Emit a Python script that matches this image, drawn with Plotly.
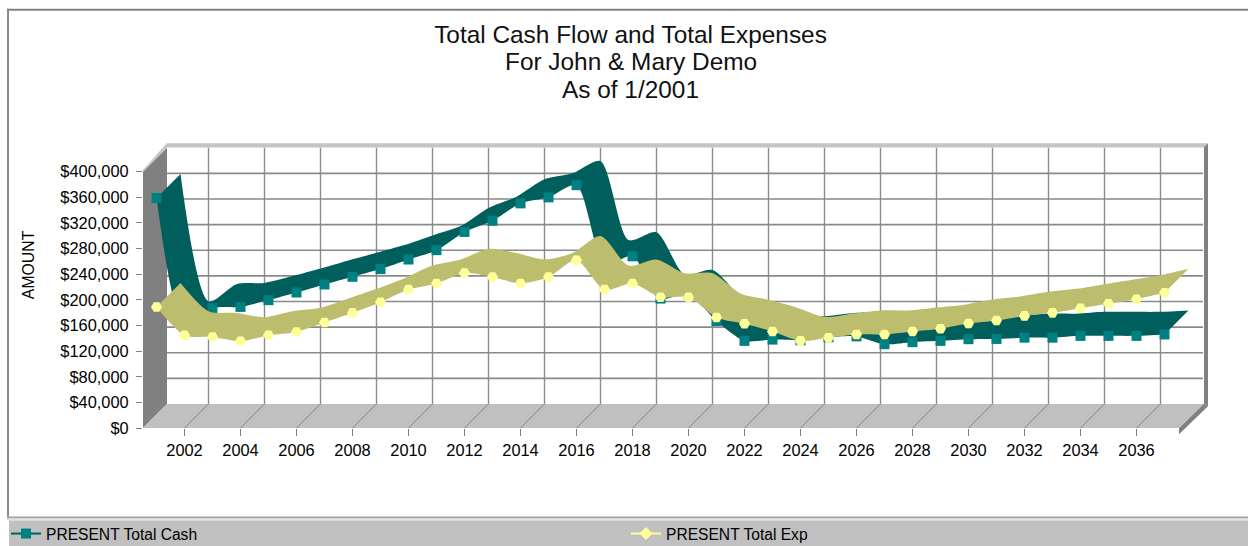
import plotly.graph_objects as go

# ---------- data ----------
years = list(range(2001, 2038))
total_cash = [359000, 160000, 187000, 189000, 199600, 211500, 224000, 236000, 248000, 263000,
              277600, 306000, 323500, 350600, 360000, 379000, 256000, 268000, 202000, 209000,
              167000, 136000, 138000, 137000, 141600, 143000, 130800, 134000, 136000, 138600,
              139000, 141000, 141000, 143800, 143800, 143800, 146000]
total_exp = [189000, 144800, 142000, 135500, 144800, 150000, 164600, 179700, 196400, 216000,
             225600, 242000, 235500, 225600, 235500, 262000, 216000, 225600, 204000, 204000,
             172500, 162600, 150600, 136000, 141000, 146000, 146000, 150600, 155000, 163000,
             167800, 175000, 179700, 187000, 194000, 201000, 211000]
x_ticks = list(range(2002, 2037, 2))
y_ticks = list(range(0, 400001, 40000))
y_tick_labels = [f"${v:,}" for v in y_ticks]
title_lines = ["Total Cash Flow and Total Expenses", "For John &amp; Mary Demo", "As of 1/2001"]
y_axis_label = "AMOUNT"
cash_name = "PRESENT Total Cash"
exp_name = "PRESENT Total Exp"

# ---------- geometry ----------
W, H = 1248, 546
L, R, T, B = 143, 1208, 143, 427.7     # plot area in pixels
PX_PER_YEAR = 28.0
VALUE_PER_PX = 1562.5
DEPTH_PX = 24
DX = DEPTH_PX / PX_PER_YEAR
DY = DEPTH_PX * VALUE_PER_PX
X0 = 2001 - (156.5 - L) / PX_PER_YEAR
X1 = 2001 + (R - 156.5) / PX_PER_YEAR
Y1 = (B - T) * VALUE_PER_PX
XF = 2001 + (1179 - 156.5) / PX_PER_YEAR   # right end of the front edge

def px(x): return (x - L) / (R - L)
def py(y): return (B - y) / (B - T)
def poly(points, fill):
    path = "M " + " L ".join(f"{px(a):.5f},{py(b):.5f}" for a, b in points) + " Z"
    return dict(type="path", path=path, xref="paper", yref="paper", fillcolor=fill,
                line=dict(width=0), layer="below")
def rect(x0, y0, x1, y1, fill):
    return poly([(x0, y0), (x1, y0), (x1, y1), (x0, y1)], fill)

GRID = "#8a8a8a"
shapes = [
    # outer frame and legend band
    rect(7, 9, W, 11, "#808080"),
    rect(7, 9, 9, 518, "#8c8c8c"),
    rect(7, 516, W, 518, "#a0a0a0"),
    rect(7, 518, W, 520, "#e2e2e2"),
    rect(9, 520, W, H, "#c0c0c0"),
    # chart box
    poly([(143, B), (167, B - 24), (167, 147.7), (143, 171.7)], "#808080"),
    poly([(143, B), (167, B - 24), (1204, B - 24), (1179, B)], "#c0c0c0"),
    poly([(141.5, 171.7), (166.7, 143.3), (1208, 143.3), (1204, 147.5), (166.7, 147.5), (143, 171.7)], "#c4c4c4"),
    poly([(1204, 147.5), (1208, 143.3), (1208, 406), (1204, 403.5)], "#808080"),
    poly([(1179, 428), (1204, 403.5), (1208, 406), (1179, 434)], "#808080"),
]
for v in y_ticks[1:-1]:
    shapes.append(dict(type="line", xref="x", yref="y", x0=X0 + DX, x1=XF + DX, y0=v + DY, y1=v + DY,
                       line=dict(color=GRID, width=1.6), layer="below"))
for t in x_ticks:
    shapes.append(dict(type="line", xref="x", yref="y", x0=t + DX, x1=t + DX, y0=DY, y1=400000 + DY,
                       line=dict(color=GRID, width=1.4), layer="below"))
    shapes.append(dict(type="line", xref="x", yref="y", x0=t, x1=t + DX, y0=0, y1=DY,
                       line=dict(color="#808080", width=1), layer="below"))

CASH_RIB, CASH_MK = "#005f5c", "#008080"
EXP_RIB, EXP_MK = "#bdbd6e", "#ffff99"
SMOOTH = 0.75

def ribbon(values, color):
    front = go.Scatter(x=years, y=values, mode="lines", showlegend=False, hoverinfo="skip",
                       line=dict(width=0, shape="spline", smoothing=SMOOTH, color=color))
    back = go.Scatter(x=[y + DX for y in years], y=[v + DY for v in values], mode="lines",
                      showlegend=False, hoverinfo="skip", fill="tonexty", fillcolor=color,
                      line=dict(width=0, shape="spline", smoothing=SMOOTH, color=color))
    return [front, back]

def marks(values, color, symbol, size):
    return go.Scatter(x=years, y=values, mode="markers", showlegend=False,
                      marker=dict(color=color, symbol=symbol, size=size, line=dict(width=0)))

def key(name, line_color, color, symbol, legend):
    return go.Scatter(x=[None], y=[None], mode="lines+markers", name=name, legend=legend,
                      line=dict(color=line_color, width=2),
                      marker=dict(color=color, symbol=symbol, size=10, line=dict(width=0)))

traces = ribbon(total_cash, CASH_RIB) + [marks(total_cash, CASH_MK, "square", 10)]
traces += ribbon(total_exp, EXP_RIB) + [marks(total_exp, EXP_MK, "hexagon2", 11)]
traces += [key(cash_name, CASH_RIB, CASH_MK, "square", "legend"),
           key(exp_name, EXP_MK, EXP_MK, "diamond", "legend2")]

FONT = "Liberation Sans, Arial, sans-serif"
TITLE_SIZE = 24.4
legend_style = dict(xanchor="left", yanchor="middle", bgcolor="rgba(0,0,0,0)",
                    font=dict(size=15.6), itemwidth=30)
annotations = [
    dict(text=line, x=px(630.5), xref="paper", y=py(yc), yref="paper", showarrow=False,
         xanchor="center", yanchor="middle", font=dict(size=TITLE_SIZE, color="#111111"))
    for line, yc in zip(title_lines[1:], (62, 90))
]
annotations.append(dict(text=y_axis_label, x=px(28), xref="paper", y=py(265), yref="paper", showarrow=False,
                        textangle=-90, xanchor="center", yanchor="middle", font=dict(size=15.8)))
fig = go.Figure(traces)
fig.update_layout(
    width=W, height=H, autosize=False,
    margin=dict(l=L, r=W - R, t=T, b=H - B, pad=0, autoexpand=False),
    paper_bgcolor="white", plot_bgcolor="rgba(0,0,0,0)",
    font=dict(family=FONT, color="#000000", size=16),
    title=dict(text=title_lines[0], x=630.5 / W, xref="container", xanchor="center",
               y=1 - 34 / H, yref="container", yanchor="middle",
               font=dict(size=TITLE_SIZE, color="#111111")),
    annotations=annotations,
    shapes=shapes,
    showlegend=True,
    legend=dict(x=px(6), y=py(533.5), **legend_style),
    legend2=dict(x=px(626), y=py(533.5), **legend_style),
    xaxis=dict(range=[X0, X1], tickmode="array", tickvals=x_ticks, ticktext=[str(t) for t in x_ticks],
               showgrid=False, zeroline=False, showline=False, ticks="outside", ticklen=7,
               tickcolor="#808080", tickwidth=1, tickfont=dict(size=16.4), fixedrange=True),
    yaxis=dict(range=[0, Y1], tickmode="array", tickvals=y_ticks, ticktext=y_tick_labels,
               showgrid=False, zeroline=False, showline=False, ticks="outside", ticklen=6,
               tickcolor="#808080", tickwidth=1, tickfont=dict(size=16.4), fixedrange=True,
               ticklabelstandoff=4),
)
fig.write_html("out.html", post_script="document.body.style.margin='0';document.body.style.overflow='hidden';",
               config=dict(displayModeBar=False))
